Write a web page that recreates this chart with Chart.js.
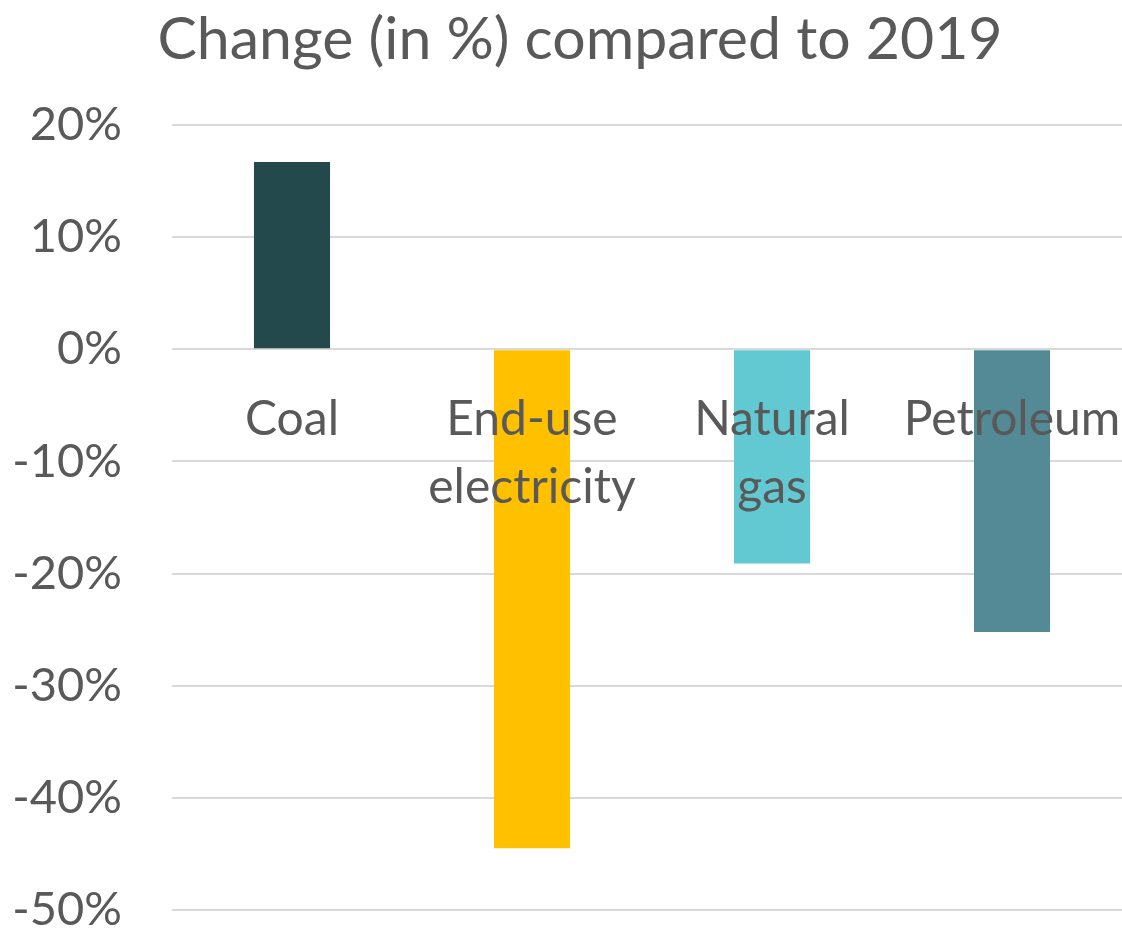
<!DOCTYPE html>
<html>
<head>
<meta charset="utf-8">
<script src="https://cdn.jsdelivr.net/npm/chart.js@4/dist/chart.umd.min.js"></script>
<style>
  html, body { margin: 0; padding: 0; background: #fff; overflow: hidden; }
  #wrap { width: 1132px; height: 929px; }
</style>
</head>
<body>
<div id="wrap"><canvas id="myChart"></canvas></div>
<script>
const categories = ['Coal', ['End-use', 'electricity'], ['Natural', 'gas'], 'Petroleum'];
const changeValues = [16.7, -44.5, -19.1, -25.2];
const barColors = ['#23494D', '#FFC000', '#62C9D2', '#548A96'];
const yTicks = [20, 10, 0, -10, -20, -30, -40, -50];
const chartTitle = 'Change (in %) compared to 2019';

const textColor = '#595959';

// title drawn by hand so it can sit off-centre like the original
const titlePlugin = {
  id: 'manualTitle',
  afterDraw(chart) {
    const ctx = chart.ctx;
    ctx.save();
    ctx.font = '59px Lato';
    ctx.fillStyle = textColor;
    ctx.textAlign = 'center';
    ctx.textBaseline = 'alphabetic';
    ctx.fillText(chartTitle, 580, 59);
    ctx.restore();
  }
};

function createChart() {
  const ctx = document.getElementById('myChart').getContext('2d');
  return new Chart(ctx, {
    type: 'bar',
    data: {
      labels: categories,
      datasets: [{
        label: 'Change',
        data: changeValues,
        backgroundColor: barColors,
        borderWidth: 0,
        categoryPercentage: 1,
        barPercentage: 0.317
      }]
    },
    options: {
      responsive: true,
      maintainAspectRatio: false,
      animation: false,
      layout: { padding: { top: 125, bottom: 19, left: 0, right: 0 } },
      plugins: {
        legend: { display: false },
        title: { display: false },
        tooltip: { enabled: false }
      },
      scales: {
        x: {
          position: { y: 0 },
          offset: true,
          afterFit(scale) {
            scale.paddingLeft = 0;
            scale.paddingRight = 0;
          },
          grid: { display: false },
          border: { display: false },
          ticks: {
            z: 1,
            color: textColor,
            font: { family: 'Lato', size: 48, lineHeight: 1.4 },
            padding: 29,
            maxRotation: 0,
            autoSkip: false
          }
        },
        y: {
          min: Math.min(...yTicks),
          max: Math.max(...yTicks),
          afterBuildTicks(scale) {
            scale.ticks = yTicks.map(v => ({ value: v }));
          },
          afterFit(scale) {
            scale.width = 172;
            scale.paddingTop = 0;
            scale.paddingBottom = 0;
          },
          grid: { color: '#D9D9D9', lineWidth: 2, drawTicks: false },
          border: { display: false },
          ticks: {
            color: textColor,
            font: { family: 'Lato', size: 47, lineHeight: 0.75 },
            padding: 50,
            callback: v => v + '%'
          }
        }
      }
    },
    plugins: [titlePlugin]
  });
}

let chart = createChart();
</script>
</body>
</html>
